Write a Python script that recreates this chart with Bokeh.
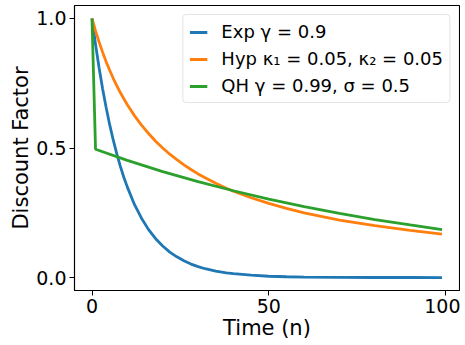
from bokeh.plotting import figure
from bokeh.models import Range1d, FixedTicker, Legend, LegendItem
from bokeh.embed import file_html
from bokeh.resources import INLINE

# Time steps and discount factors
t_exp_hyp = [0, 1, 2, 3, 4, 5, 6, 7, 8, 9, 10, 12, 14, 16, 18, 20, 22, 24, 26, 28,
             30, 32, 35, 38, 40, 45, 50, 55, 60, 70, 80, 90, 99]
exp_vals = [1.0, 0.9, 0.81, 0.729, 0.656, 0.59, 0.531, 0.478, 0.43, 0.387, 0.349,
            0.282, 0.229, 0.185, 0.15, 0.122, 0.098, 0.08, 0.065, 0.052,
            0.042, 0.034, 0.025, 0.018, 0.015, 0.009, 0.005, 0.003, 0.002,
            0.001, 0.0002, 0.0001, 0.00003]
hyp_vals = [1.0, 0.952, 0.909, 0.87, 0.833, 0.8, 0.769, 0.741, 0.714, 0.69, 0.667,
            0.625, 0.588, 0.556, 0.526, 0.5, 0.476, 0.455, 0.435, 0.417,
            0.4, 0.385, 0.364, 0.345, 0.333, 0.308, 0.286, 0.267, 0.25,
            0.222, 0.2, 0.182, 0.168]
t_qh = [0, 1, 10, 20, 30, 40, 50, 60, 70, 80, 90, 99]
qh_vals = [1.0, 0.495, 0.452, 0.409, 0.37, 0.335, 0.303, 0.274, 0.248, 0.224, 0.203, 0.185]

labels = ["Exp γ = 0.9", "Hyp κ₁ = 0.05, κ₂ = 0.05", "QH γ = 0.99, σ = 0.5"]
x_ticks = [0, 50, 100]
x_tick_labels = ["0", "50", "100"]
y_ticks = [0, 0.5, 1.0]
y_tick_labels = ["0.0", "0.5", "1.0"]

colors = ["#1f77b4", "#ff7f0e", "#2ca02c"]
FONT = "DejaVu Sans"

p = figure(frame_width=385, frame_height=285, output_backend="svg", toolbar_location=None,
           x_range=Range1d(-4.95, 103.95), y_range=Range1d(-0.05, 1.05),
           min_border_left=74, min_border_right=1, min_border_top=5, min_border_bottom=40)

r1 = p.line(t_exp_hyp, exp_vals, line_color=colors[0], line_width=2.8)
r2 = p.line(t_exp_hyp, hyp_vals, line_color=colors[1], line_width=2.8)
r3 = p.line(t_qh, qh_vals, line_color=colors[2], line_width=2.8)

p.xgrid.visible = False
p.ygrid.visible = False
p.outline_line_color = "black"
p.outline_line_width = 1.1
p.background_fill_color = "white"
p.border_fill_color = "white"

p.xaxis.ticker = FixedTicker(ticks=x_ticks)
p.yaxis.ticker = FixedTicker(ticks=y_ticks)
p.xaxis.major_label_overrides = {t: l for t, l in zip(x_ticks, x_tick_labels)}
p.yaxis.major_label_overrides = {t: l for t, l in zip(y_ticks, y_tick_labels)}
p.xaxis.axis_label = "Time (n)"
p.yaxis.axis_label = "Discount Factor"

for ax in [p.xaxis[0], p.yaxis[0]]:
    ax.major_tick_in = 0
    ax.major_tick_out = 5
    ax.minor_tick_in = 0
    ax.minor_tick_out = 0
    ax.major_tick_line_color = "black"
    ax.axis_line_color = "black"
    ax.axis_line_width = 1.1
    ax.major_label_text_font = FONT
    ax.major_label_text_font_size = "19px"
    ax.major_label_text_color = "black"
    ax.major_label_standoff = 3
    ax.axis_label_text_font = FONT
    ax.axis_label_text_font_size = "21px"
    ax.axis_label_text_font_style = "normal"
    ax.axis_label_text_color = "black"
    ax.axis_label_standoff = 0

legend = Legend(items=[LegendItem(label=labels[0], renderers=[r1]),
                       LegendItem(label=labels[1], renderers=[r2]),
                       LegendItem(label=labels[2], renderers=[r3])],
                location="top_right")
legend.margin = 9
legend.padding = 6
legend.spacing = 6
legend.glyph_width = 18
legend.glyph_height = 20
legend.label_height = 20
legend.label_width = 190
legend.label_standoff = 14
legend.label_text_font = FONT
legend.label_text_font_size = "18px"
legend.label_text_color = "black"
legend.border_line_color = "#cccccc"
legend.border_line_width = 1
legend.border_radius = 4
legend.background_fill_color = "white"
legend.background_fill_alpha = 0.8
p.add_layout(legend)

open("out.html", "w").write(file_html(p, INLINE))
